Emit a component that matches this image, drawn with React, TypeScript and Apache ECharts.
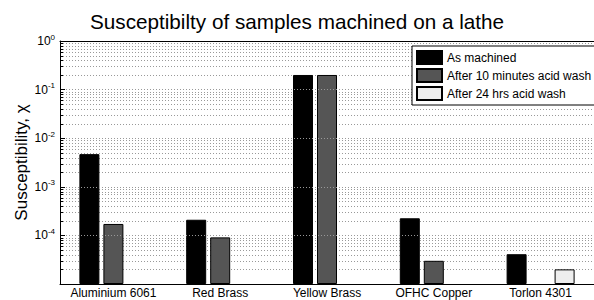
import React, { useEffect, useRef } from "react";
import * as echarts from "echarts";

const categories = ["Aluminium 6061", "Red Brass", "Yellow Brass", "OFHC Copper", "Torlon 4301"];
const seriesNames = ["As machined", "After 10 minutes acid wash", "After 24 hrs acid wash"];
const asMachined = [4.7e-3, 2.1e-4, 0.2, 2.25e-4, 4.1e-5];
const after10min = [1.72e-4, 9.1e-5, 0.2, 3.0e-5, null];
const after24hrs = [null, null, null, null, 2.0e-5];
const barColors = ["#000000", "#555555", "#eeeeee"];
const yMin = 1e-5;
const yMax = 1;
const minorMantissas = [2, 3, 4, 5, 6, 7, 8, 9];
const minorExponents = [-5, -4, -3, -2, -1];

const FONT = "'Liberation Sans', Arial, Helvetica, sans-serif";
// ECharts log-axis bars start at value 1, so the axis is shifted so that yMin maps to 1.
const SHIFT = 1 / yMin;

export default function App() {
  const ref = useRef<HTMLDivElement>(null);
  useEffect(() => {
    if (!ref.current) return;
    const chart = echarts.init(ref.current, null, { renderer: "svg" });
    const minorValues: number[][] = [];
    minorExponents.forEach((e) =>
      minorMantissas.forEach((m) => minorValues.push([0, m * Math.pow(10, e) * SHIFT]))
    );
    const dataSets = [asMachined, after10min, after24hrs];
    const minExp = Math.round(Math.log10(yMin));
    const option: any = {
      animation: false,
      backgroundColor: "#ffffff",
      textStyle: { fontFamily: FONT },
      title: {
        text: "Susceptibilty of samples machined on a lathe",
        left: "center",
        top: 6,
        textStyle: { fontSize: 20.7, fontWeight: "normal", color: "#000", fontFamily: FONT },
      },
      legend: {
        data: seriesNames,
        orient: "vertical",
        left: 412,
        top: 46,
        itemWidth: 25,
        itemHeight: 13,
        itemGap: 3,
        padding: [4, 4, 4, 4],
        borderColor: "#000",
        borderWidth: 1,
        backgroundColor: "#ffffff",
        icon: "rect",
        z: 20,
        textStyle: { fontSize: 12, color: "#000", fontFamily: FONT },
      },
      grid: { left: 60, top: 41, width: 540, height: 243 },
      xAxis: [
        {
          type: "category",
          data: categories,
          axisLine: { lineStyle: { color: "#000", width: 1 } },
          axisTick: { inside: true, alignWithLabel: true, length: 5, lineStyle: { color: "#000" } },
          axisLabel: { color: "#000", fontSize: 12, margin: 3, fontFamily: FONT, interval: 0 },
          splitLine: { show: false },
          z: 10,
        },
        {
          type: "category",
          data: categories,
          position: "top",
          axisLine: { lineStyle: { color: "#000", width: 1 } },
          axisTick: { inside: true, alignWithLabel: true, length: 5, lineStyle: { color: "#000" } },
          axisLabel: { show: false },
          splitLine: { show: false },
          z: 10,
        },
      ],
      yAxis: {
        type: "log",
        logBase: 10,
        min: yMin * SHIFT,
        max: yMax * SHIFT,
        name: "Susceptibility, χ",
        nameLocation: "middle",
        nameGap: 30,
        nameMoveOverlap: false,
        nameTextStyle: { fontSize: 17, color: "#000", fontFamily: FONT },
        axisLine: { show: true, lineStyle: { color: "#000", width: 1 } },
        axisTick: { show: true, inside: true, length: 5, lineStyle: { color: "#000" } },
        splitLine: { show: true, lineStyle: { color: "#999", type: [1, 2], width: 1 } },
        axisLabel: {
          margin: 5,
          formatter: (v: number) => {
            const e = Math.round(Math.log10(v / SHIFT));
            return e <= minExp ? "" : `{b|10}{s|${e}}`;
          },
          rich: {
            b: { fontSize: 12, color: "#000", fontFamily: FONT },
            s: { fontSize: 8, color: "#000", fontFamily: FONT, padding: [0, 0, 8, 0] },
          },
        },
        z: 10,
      },
      series: [
        {
          type: "custom",
          silent: true,
          z: 1,
          data: minorValues,
          encode: { x: 0, y: 1 },
          renderItem: (params: any, api: any) => {
            const cs = params.coordSys;
            const y = Math.round(api.coord([0, api.value(1)])[1]) + 0.5;
            return {
              type: "group",
              children: [
                {
                  type: "line",
                  shape: { x1: cs.x, y1: y, x2: cs.x + cs.width, y2: y },
                  style: { stroke: "#999", lineDash: [1, 2], lineWidth: 1 },
                },
                {
                  type: "line",
                  shape: { x1: cs.x, y1: y, x2: cs.x + 3, y2: y },
                  style: { stroke: "#000", lineWidth: 1 },
                },
              ],
            };
          },
        },
        ...seriesNames.map((name, i) => ({
          type: "bar",
          name,
          data: dataSets[i].map((v) => (v == null ? null : v * SHIFT)),
          barWidth: 20,
          barGap: "20%",
          z: 2,
          itemStyle: { color: barColors[i], borderColor: "#000", borderWidth: 1 },
        })),
      ],
    };
    chart.setOption(option);
    return () => chart.dispose();
  }, []);
  return (
    <div
      ref={ref}
      style={{ position: "absolute", left: 0, top: 0, width: 594, height: 300, background: "#fff" }}
    />
  );
}
